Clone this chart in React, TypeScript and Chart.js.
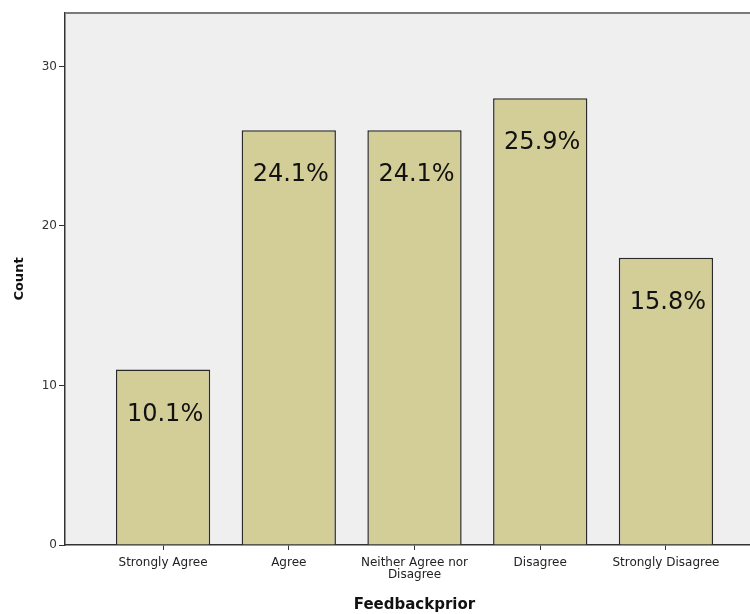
import React, { useEffect, useRef } from "react";
import { Chart, registerables } from "chart.js";

Chart.register(...registerables);

const categories: (string | string[])[] = [
  "Strongly Agree",
  "Agree",
  ["Neither Agree nor", "Disagree"],
  "Disagree",
  "Strongly Disagree",
];
const counts = [11, 26, 26, 28, 18];
const percentLabels = ["10.1%", "24.1%", "24.1%", "25.9%", "15.8%"];
const yTicks = [0, 10, 20, 30];

const FONT = "'DejaVu Sans', Verdana, sans-serif";

export default function App() {
  const ref = useRef<HTMLCanvasElement>(null);

  useEffect(() => {
    document.body.style.margin = "0";
    document.body.style.overflow = "hidden";
    document.documentElement.style.overflow = "hidden";
    const canvas = ref.current!;

    const bgPlugin = {
      id: "bg",
      beforeDraw(chart: any) {
        const { ctx, chartArea: a } = chart;
        ctx.save();
        ctx.fillStyle = "#efefef";
        ctx.fillRect(a.left, a.top, a.right - a.left, a.bottom - a.top);
        ctx.restore();
      },
      afterDraw(chart: any) {
        const { ctx, chartArea: a } = chart;
        ctx.save();
        ctx.strokeStyle = "#7a7a7a";
        ctx.lineWidth = 2;
        ctx.beginPath();
        ctx.moveTo(a.left, a.top);
        ctx.lineTo(a.right, a.top);
        ctx.lineTo(a.right, a.bottom);
        ctx.stroke();
        ctx.restore();
      },
    };

    const labelPlugin = {
      id: "pctLabels",
      afterDatasetsDraw(chart: any) {
        const { ctx } = chart;
        const meta = chart.getDatasetMeta(0);
        ctx.save();
        ctx.font = `24px ${FONT}`;
        ctx.fillStyle = "#111";
        ctx.textAlign = "center";
        ctx.textBaseline = "alphabetic";
        meta.data.forEach((bar: any, i: number) => {
          ctx.fillText(percentLabels[i], bar.x + 2, bar.y + 51);
        });
        ctx.restore();
      },
    };

    const chart = new Chart(canvas, {
      type: "bar",
      data: {
        datasets: [
          {
            data: counts.map((c, i) => ({ x: i, y: c })),
            backgroundColor: "#d3cd98",
            borderColor: "#2a2a2a",
            borderWidth: 1.5,
            barPercentage: 0.75,
            categoryPercentage: 1,
          },
        ],
      },
      options: {
        responsive: false,
        animation: false,
        devicePixelRatio: 1,
        layout: { padding: { top: 13, right: 6, left: 0, bottom: 0 } },
        plugins: {
          legend: { display: false },
          tooltip: { enabled: false },
        },
        scales: {
          x: {
            type: "linear",
            min: -0.78,
            max: categories.length - 1 + 0.78,
            offset: false,
            grid: {
              offset: false,
              drawOnChartArea: false,
              drawTicks: true,
              tickLength: 5,
              color: "#333",
            },
            border: { display: true, color: "#333", width: 1.5 },
            afterBuildTicks(scale: any) {
              scale.ticks = categories.map((_, i) => ({ value: i }));
            },
            ticks: {
              color: "#222",
              font: { family: FONT, size: 12, lineHeight: 1.0 },
              padding: 7,
              maxRotation: 0,
              autoSkip: false,
              callback: (v: any) => categories[Math.round(Number(v))],
            },
            title: {
              display: true,
              text: "Feedbackprior",
              color: "#111",
              font: { family: FONT, size: 15, weight: "bold" },
              padding: { top: 0, bottom: 0 },
            },
            afterFit(scale: any) {
              scale.height = 69;
            },
          },
          y: {
            min: 0,
            max: 33.35,
            grid: {
              drawOnChartArea: false,
              drawTicks: true,
              tickLength: 6,
              color: "#333",
            },
            border: { display: true, color: "#333", width: 1.5 },
            ticks: {
              stepSize: 10,
              color: "#333",
              font: { family: FONT, size: 12 },
              padding: 2,
            },
            afterBuildTicks(scale: any) {
              scale.ticks = yTicks.map((v) => ({ value: v }));
            },
            title: {
              display: true,
              text: "Count",
              color: "#111",
              font: { family: FONT, size: 13, weight: "bold" },
              padding: { top: 12, bottom: 0 },
            },
            afterFit(scale: any) {
              scale.width = 65;
            },
          },
        },
      },
      plugins: [bgPlugin, labelPlugin],
    });

    return () => chart.destroy();
  }, []);

  return (
    <div style={{ width: 770, height: 614 }}>
      <canvas ref={ref} width={770} height={614} style={{ display: "block" }} />
    </div>
  );
}
